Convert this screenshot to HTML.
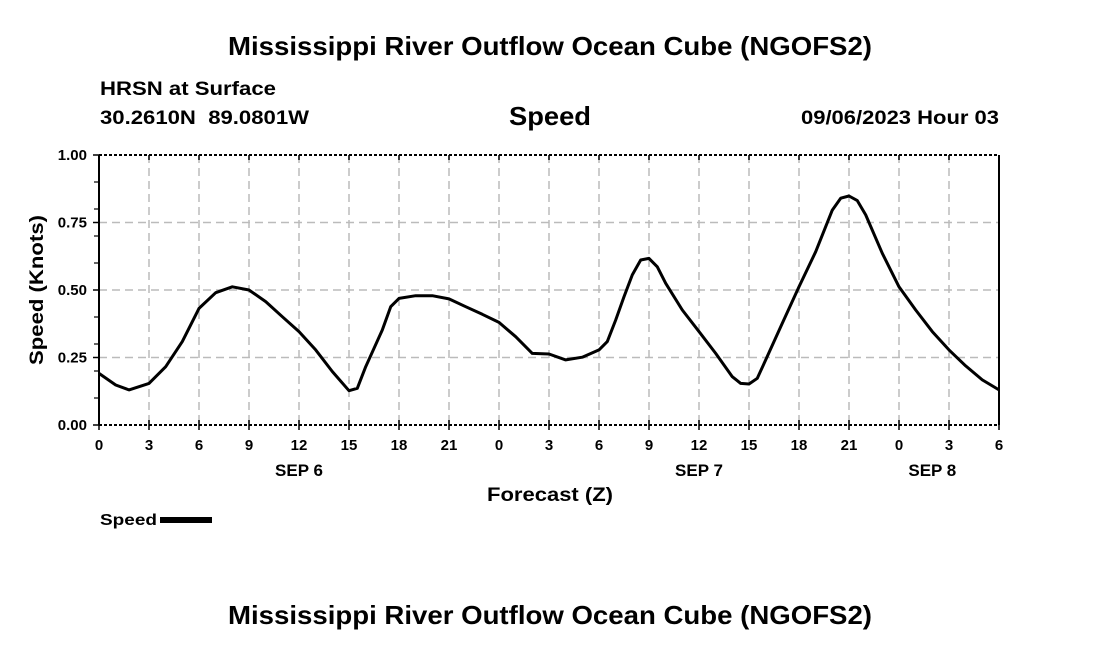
<!DOCTYPE html>
<html><head><meta charset="utf-8"><style>
body{margin:0;background:#fff;width:1100px;height:650px;overflow:hidden;font-family:"Liberation Sans",Arial,sans-serif}
svg text{font-family:"Liberation Sans",Arial,sans-serif;font-weight:bold;fill:#000}
</style></head><body>
<svg id="chart" width="1100" height="650">
<text x="228" y="55" font-size="26" textLength="644" lengthAdjust="spacingAndGlyphs">Mississippi River Outflow Ocean Cube (NGOFS2)</text>
<text x="100" y="95" font-size="19" textLength="176" lengthAdjust="spacingAndGlyphs">HRSN at Surface</text>
<text x="100" y="124" font-size="19" textLength="209" lengthAdjust="spacingAndGlyphs">30.2610N&#160;&#160;89.0801W</text>
<text x="509" y="125" font-size="26" textLength="82" lengthAdjust="spacingAndGlyphs">Speed</text>
<text x="801" y="124" font-size="19" textLength="198" lengthAdjust="spacingAndGlyphs">09/06/2023 Hour 03</text>
<g id="grid"></g>
<g id="axes"></g>
<path id="line" fill="none" stroke="#000" stroke-width="3" stroke-linejoin="round"/>
<text x="43" y="365" font-size="19" textLength="150" lengthAdjust="spacingAndGlyphs" transform="rotate(-90 43 365)">Speed (Knots)</text>
<text x="487" y="501" font-size="19" textLength="126" lengthAdjust="spacingAndGlyphs">Forecast (Z)</text>
<text x="100" y="525" font-size="16" textLength="57" lengthAdjust="spacingAndGlyphs">Speed</text>
<rect x="160" y="517" width="52" height="6" fill="#000"/>
<text x="228" y="624" font-size="26" textLength="644" lengthAdjust="spacingAndGlyphs">Mississippi River Outflow Ocean Cube (NGOFS2)</text>
</svg>
<script>
const hours=[0,1,1.8,3,4,5,6,7,8,9,10,11,12,13,14,15,15.5,16,17,17.5,18,19,20,21,22,23,24,25,26,27,28,29,30,30.5,31,31.5,32,32.5,33,33.5,34,35,36,37,38,38.5,39,39.5,40,41,42,43,44,44.5,45,45.5,46,47,48,49,50,51,52,53,54];
const speeds=[0.191,0.148,0.13,0.154,0.216,0.309,0.432,0.49,0.512,0.5,0.457,0.401,0.346,0.278,0.198,0.127,0.136,0.216,0.352,0.438,0.469,0.479,0.479,0.467,0.438,0.41,0.38,0.327,0.265,0.263,0.241,0.251,0.278,0.309,0.389,0.475,0.556,0.611,0.617,0.586,0.525,0.426,0.346,0.265,0.179,0.154,0.152,0.173,0.241,0.377,0.512,0.642,0.796,0.84,0.848,0.831,0.778,0.636,0.512,0.426,0.346,0.278,0.219,0.167,0.13];
const yTicks=[0,0.25,0.5,0.75,1.0];
const xTickLabels=["0","3","6","9","12","15","18","21","0","3","6","9","12","15","18","21","0","3","6"];
const dayLabels=["SEP 6","SEP 7","SEP 8"];
const dayHours=[12,36,50];
const X0=99,X1=999,Y0=425,Y1=155,HMAX=54;
const sx=h=>X0+(X1-X0)*h/HMAX, sy=v=>Y0-(Y0-Y1)*v;
const NS="http://www.w3.org/2000/svg";
const grid=document.getElementById('grid'),axes=document.getElementById('axes');
function mk(p,tag,at){const e=document.createElementNS(NS,tag);for(const k in at)e.setAttribute(k,at[k]);p.appendChild(e);return e;}
xTickLabels.forEach((l,i)=>{const x=sx(i*3);
 if(i>0&&i<xTickLabels.length-1){const g=mk(grid,'line',{x1:x,x2:x,y1:Y1,y2:Y0,stroke:'#bbb','stroke-width':1.5,'stroke-dasharray':'8,5'});
 
 }
 const t=mk(axes,'line',{x1:x,x2:x,y1:Y0-5,y2:Y0+5,stroke:'#000','stroke-width':1.5});
 
 
 const t2=mk(axes,'line',{x1:x,x2:x,y1:Y1,y2:Y1+5,stroke:'#000','stroke-width':1.5});
 
 
 const tx=mk(axes,'text',{x:x,y:450,'font-size':15,'text-anchor':'middle'});tx.textContent=l;
 
 });
dayLabels.forEach((l,i)=>{const tx=mk(axes,'text',{x:sx(dayHours[i]),y:476,'font-size':17,'text-anchor':'middle'});tx.textContent=l;
 
 });
yTicks.forEach(v=>{const y=sy(v);
 if(v>0&&v<1){const g=mk(grid,'line',{x1:X0,x2:X1,y1:y,y2:y,stroke:'#bbb','stroke-width':1.5,'stroke-dasharray':'8,5'});
 
 }
 const t=mk(axes,'line',{x1:X0-6,x2:X0,y1:y,y2:y,stroke:'#000','stroke-width':1.5});
 
 
 const tx=mk(axes,'text',{x:87,y:y+5,'font-size':15,'text-anchor':'end'});tx.textContent=v.toFixed(2);
 
 });
for(let k=1;k<10;k++){if(k==5)continue;const y=sy(k/10);
 const t=mk(axes,'line',{x1:X0-5,x2:X0,y1:y,y2:y,stroke:'#000','stroke-width':1.2});
 
 }
[[X0,Y1,X0,Y0,'none','left-axis'],[X1,Y1,X1,Y0,'none','right-axis'],[X0,Y1,X1,Y1,'3,2','top-border'],[X0,Y0,X1,Y0,'3,2','bottom-axis']].forEach(a=>{
 const l=mk(axes,'line',{x1:a[0],y1:a[1],x2:a[2],y2:a[3],stroke:'#000','stroke-width':2,'stroke-dasharray':a[4]});
 
 });
document.getElementById('line').setAttribute('d',hours.map((h,i)=>(i?'L':'M')+sx(h).toFixed(1)+','+sy(speeds[i]).toFixed(1)).join(''));
</script>
</body></html>
